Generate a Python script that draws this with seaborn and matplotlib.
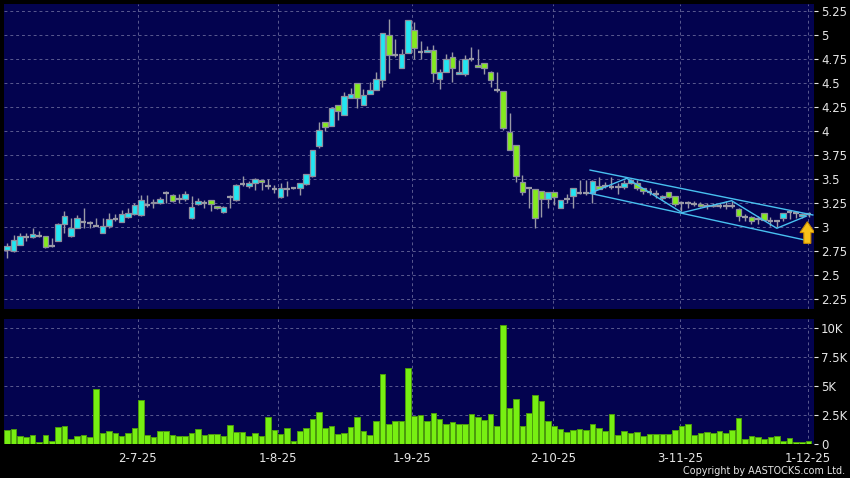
import numpy as np
import pandas as pd
import matplotlib
matplotlib.use("Agg")
import matplotlib.pyplot as plt
import seaborn as sns
from matplotlib.patches import Polygon

# ---------------- data ----------------
opens = [2.76, 2.75, 2.812, 2.90, 2.90, 2.91, 2.909, 2.80, 2.857, 3.034,
         2.906, 2.992, 3.05, 3.04, 3.01, 2.94, 3.01, 3.086, 3.05, 3.106,
         3.137, 3.127, 3.23, 3.25, 3.25, 3.36, 3.331, 3.29, 3.293, 3.096,
         3.245, 3.25, 3.286, 3.224, 3.155, 3.31, 3.279, 3.45, 3.425, 3.46,
         3.494, 3.425, 3.40, 3.31, 3.40, 3.41, 3.407, 3.449, 3.528, 3.844,
         4.10, 4.055, 4.273, 4.17, 4.346, 4.502, 4.273, 4.388, 4.429, 4.533,
         5.0, 4.792, 4.657, 4.813, 5.052, 4.82, 4.82, 4.841, 4.543, 4.612,
         4.768, 4.595, 4.595, 4.747, 4.692, 4.709, 4.619, 4.433, 4.419, 3.99,
         3.854, 3.473, 3.41, 3.394, 3.38, 3.29, 3.362, 3.196, 3.293, 3.324,
         3.36, 3.36, 3.352, 3.43, 3.43, 3.42, 3.42, 3.42, 3.462, 3.462,
         3.404, 3.37, 3.35, 3.30, 3.362, 3.327, 3.247, 3.247, 3.24, 3.24,
         3.216, 3.233, 3.223, 3.223, 3.22, 3.19, 3.102, 3.102, 3.085, 3.144,
         3.067, 3.067, 3.092, 3.161, 3.147, 3.12, 3.137]
highs = [2.837, 2.923, 2.94, 2.94, 2.99, 2.965, 2.909, 2.89, 3.04, 3.172,
         3.096, 3.13, 3.20, 3.06, 3.096, 3.096, 3.148, 3.14, 3.18, 3.20,
         3.25, 3.338, 3.338, 3.29, 3.31, 3.38, 3.35, 3.345, 3.38, 3.328,
         3.30, 3.285, 3.286, 3.224, 3.22, 3.338, 3.45, 3.53, 3.48, 3.51,
         3.494, 3.50, 3.44, 3.46, 3.48, 3.42, 3.46, 3.556, 3.80, 4.10,
         4.10, 4.249, 4.273, 4.412, 4.446, 4.502, 4.439, 4.509, 4.612, 5.021,
         5.166, 4.958, 4.855, 5.156, 5.131, 4.941, 4.889, 4.90, 4.647, 4.803,
         4.82, 4.74, 4.792, 4.879, 4.855, 4.709, 4.63, 4.619, 4.419, 4.19,
         3.854, 3.542, 3.41, 3.394, 3.38, 3.362, 3.362, 3.283, 3.35, 3.41,
         3.49, 3.49, 3.49, 3.518, 3.47, 3.525, 3.455, 3.49, 3.50, 3.49,
         3.41, 3.404, 3.387, 3.34, 3.37, 3.327, 3.275, 3.275, 3.268, 3.26,
         3.247, 3.25, 3.257, 3.275, 3.275, 3.20, 3.136, 3.12, 3.12, 3.15,
         3.102, 3.067, 3.144, 3.17, 3.17, 3.15, 3.16]
lows = [2.68, 2.745, 2.81, 2.855, 2.89, 2.90, 2.78, 2.795, 2.857, 2.94,
        2.90, 2.99, 2.99, 2.99, 3.01, 2.94, 2.99, 3.06, 3.05, 3.10,
        3.13, 3.12, 3.215, 3.20, 3.24, 3.25, 3.26, 3.255, 3.27, 3.09,
        3.23, 3.20, 3.165, 3.19, 3.15, 3.20, 3.27, 3.425, 3.41, 3.39,
        3.39, 3.40, 3.355, 3.30, 3.33, 3.40, 3.34, 3.44, 3.52, 3.82,
        4.0, 4.05, 4.111, 4.17, 4.346, 4.242, 4.273, 4.388, 4.429, 4.457,
        4.606, 4.768, 4.657, 4.813, 4.751, 4.751, 4.82, 4.509, 4.439, 4.612,
        4.509, 4.595, 4.578, 4.734, 4.664, 4.595, 4.457, 4.405, 4.007, 3.80,
        3.473, 3.335, 3.20, 2.989, 3.11, 3.196, 3.23, 3.196, 3.248, 3.196,
        3.35, 3.335, 3.255, 3.394, 3.41, 3.40, 3.35, 3.40, 3.45, 3.39,
        3.35, 3.335, 3.30, 3.28, 3.30, 3.223, 3.17, 3.20, 3.216, 3.21,
        3.19, 3.21, 3.195, 3.19, 3.20, 3.067, 3.067, 3.033, 3.033, 3.07,
        3.016, 3.0, 3.06, 3.085, 3.10, 3.10, 3.11]
closes = [2.805, 2.871, 2.909, 2.90, 2.93, 2.91, 2.79, 2.80, 3.037, 3.12,
          2.992, 3.096, 3.05, 3.04, 3.01, 3.01, 3.086, 3.086, 3.137, 3.148,
          3.234, 3.286, 3.23, 3.26, 3.293, 3.36, 3.269, 3.29, 3.349, 3.21,
          3.276, 3.25, 3.24, 3.20, 3.21, 3.31, 3.442, 3.45, 3.46, 3.50,
          3.466, 3.425, 3.40, 3.407, 3.40, 3.41, 3.46, 3.556, 3.80, 4.007,
          4.042, 4.242, 4.208, 4.367, 4.388, 4.346, 4.377, 4.433, 4.543, 5.021,
          4.792, 4.792, 4.803, 5.156, 4.862, 4.82, 4.841, 4.606, 4.612, 4.747,
          4.657, 4.619, 4.747, 4.747, 4.671, 4.657, 4.533, 4.433, 4.035, 3.80,
          3.532, 3.362, 3.41, 3.093, 3.29, 3.362, 3.31, 3.283, 3.293, 3.41,
          3.36, 3.36, 3.483, 3.394, 3.43, 3.42, 3.42, 3.455, 3.49, 3.404,
          3.38, 3.37, 3.35, 3.32, 3.317, 3.24, 3.247, 3.247, 3.24, 3.216,
          3.216, 3.216, 3.223, 3.223, 3.22, 3.112, 3.102, 3.067, 3.085, 3.078,
          3.067, 3.067, 3.144, 3.161, 3.147, 3.137, 3.137]
volume_k = [1.21, 1.27, 0.66, 0.58, 0.81, 0.2, 0.81, 0.29, 1.5, 1.58,
            0.43, 0.72, 0.81, 0.63, 4.76, 0.98, 1.1, 0.95, 0.72, 0.92,
            1.38, 3.8, 0.81, 0.58, 1.1, 1.15, 0.75, 0.66, 0.69, 0.98,
            1.33, 0.78, 0.84, 0.86, 0.69, 1.67, 1.0, 1.04, 0.72, 0.95,
            0.66, 2.33, 1.21, 0.84, 1.35, 0.29, 1.15, 1.35, 2.16, 2.74,
            1.35, 1.58, 0.86, 0.92, 1.44, 2.36, 1.1, 0.75, 2.02, 5.99,
            1.73, 2.02, 2.02, 6.51, 2.42, 2.48, 2.0, 2.7, 2.19, 1.73,
            1.87, 1.73, 1.73, 2.54, 2.3, 2.1, 2.54, 1.53, 10.2, 3.14,
            3.86, 1.56, 2.7, 4.18, 3.72, 1.99, 1.58, 1.33, 1.0, 1.24,
            1.27, 1.21, 1.76, 1.35, 1.12, 2.59, 0.78, 1.15, 0.98, 1.07,
            0.66, 0.89, 0.86, 0.86, 0.84, 1.18, 1.58, 1.7, 0.81, 0.98,
            1.07, 0.95, 1.1, 0.98, 1.21, 2.25, 0.46, 0.69, 0.58, 0.4,
            0.58, 0.69, 0.29, 0.52, 0.2, 0.2, 0.29]

date_tick_pos = [20.5, 42.6, 63.7, 85.8, 105.8, 125.9]
date_tick_labels = ["2-7-25", "1-8-25", "1-9-25", "2-10-25", "3-11-25", "1-12-25"]
price_ticks = [2.25, 2.5, 2.75, 3.0, 3.25, 3.5, 3.75, 4.0, 4.25, 4.5, 4.75, 5.0, 5.25]
price_tick_labels = ["2.25", "2.5", "2.75", "3", "3.25", "3.5", "3.75", "4",
                     "4.25", "4.5", "4.75", "5", "5.25"]
vol_ticks = [0, 2.5, 5, 7.5, 10]
vol_tick_labels = ["0", "2.5K", "5K", "7.5K", "10K"]

# drawn trend channel (index, price)
chan_upper_x = [91.6, 126.7]
chan_upper_y = [3.595, 3.127]
chan_lower_x = [91.6, 125.4]
chan_lower_y = [3.353, 2.867]
zigzag_x = [91.6, 97.4, 106.1, 113.9, 121.0, 125.7]
zigzag_y = [3.353, 3.509, 3.151, 3.276, 2.989, 3.117]
arrow_x = 125.8
arrow_tip = 3.057
arrow_base = 2.832

# ---------------- styling ----------------
BG = "#000000"
PANEL = "#03034f"
GRID = "#5a5a90"
TXT = "#e6e6e6"
UP = "#22e6f2"
DOWN = "#84ea1e"
EDGE = "#8e8e9e"
WICK = "#9a9aa6"
VOL = "#77ef12"
VOL_EDGE = "#4c9c0c"
LINE = "#48c0f0"

sns.set_theme(style="dark")
plt.rcParams["font.family"] = ["DejaVu Sans"]

df = pd.DataFrame({"idx": np.arange(len(opens)), "open": opens, "high": highs,
                   "low": lows, "close": closes, "vol": volume_k})

fig = plt.figure(figsize=(8.5, 4.78), dpi=100, facecolor=BG)
W, H = 850, 478
axp = fig.add_axes([3.5 / W, 1 - 309 / H, (814 - 3.5) / W, (309 - 3.5) / H])
axv = fig.add_axes([3.5 / W, 1 - 444 / H, (814 - 3.5) / W, (444 - 318.5) / H])

for ax in (axp, axv):
    ax.set_facecolor(PANEL)
    for s in ax.spines.values():
        s.set_visible(False)

# ---------------- candles ----------------
bw = 0.88
body = (df["close"] - df["open"]).abs()
is_doji = body < 0.006
up = (df["close"] > df["open"]) & ~is_doji
dn = (df["close"] < df["open"]) & ~is_doji

axp.vlines(df["idx"], df["low"], df["high"], color=WICK, lw=1.0, zorder=3)
for mask, col in ((up, UP), (dn, DOWN)):
    sub = df[mask]
    axp.bar(sub["idx"], (sub["close"] - sub["open"]).abs(),
            bottom=np.minimum(sub["open"], sub["close"]), width=bw,
            color=col, edgecolor=EDGE, linewidth=0.9, zorder=4)
dj = df[is_doji]
axp.hlines(dj["close"], dj["idx"] - bw / 2, dj["idx"] + bw / 2, color=WICK,
           lw=1.6, zorder=4)

# trend channel lines
axp.plot(chan_upper_x, chan_upper_y, color=LINE, lw=1.0, zorder=5)
axp.plot(chan_lower_x, chan_lower_y, color=LINE, lw=1.0, zorder=5)
axp.plot(zigzag_x, zigzag_y, color=LINE, lw=1.0, zorder=5)

# yellow arrow marker
hw, sw = 1.15, 0.55
hh = (arrow_tip - arrow_base) * 0.5
arrow_pts = [(arrow_x, arrow_tip), (arrow_x + hw, arrow_tip - hh),
             (arrow_x + sw, arrow_tip - hh), (arrow_x + sw, arrow_base),
             (arrow_x - sw, arrow_base), (arrow_x - sw, arrow_tip - hh),
             (arrow_x - hw, arrow_tip - hh)]
axp.add_patch(Polygon(arrow_pts, closed=True, facecolor="#f7c21a",
                      edgecolor="#c98a00", lw=0.8, zorder=6))

axp.set_xlim(-0.58, 126.85)
axp.set_ylim(2.149, 5.328)
axp.set_xticks(date_tick_pos)
axp.set_xticklabels([])
axp.set_yticks(price_ticks)
axp.set_yticklabels(price_tick_labels)
axp.yaxis.tick_right()
axp.tick_params(axis="x", length=0)
axp.tick_params(axis="y", colors=TXT, labelcolor=TXT, labelsize=8.5,
                length=3, width=0.8, pad=2, direction="out")
axp.grid(True, color=GRID, ls=(0, (3, 3)), lw=0.7)
axp.set_axisbelow(True)

# ---------------- volume ----------------
sns.barplot(data=df, x="idx", y="vol", ax=axv, native_scale=True, width=bw,
            color=VOL, saturation=1, edgecolor=VOL_EDGE, linewidth=0.7, zorder=3)
axv.set_xlim(-0.58, 126.85)
axv.set_ylim(0, 10.8)
axv.set_xlabel("")
axv.set_ylabel("")
axv.set_xticks(date_tick_pos)
axv.set_xticklabels(date_tick_labels)
axv.set_yticks(vol_ticks)
axv.set_yticklabels(vol_tick_labels)
axv.yaxis.tick_right()
axv.tick_params(axis="both", colors=TXT, labelcolor=TXT, labelsize=8.5,
                length=3, width=0.8, pad=2, direction="out")
axv.tick_params(axis="x", pad=3)
axv.grid(True, color=GRID, ls=(0, (3, 3)), lw=0.7)
axv.set_axisbelow(True)

fig.text(845 / W, 1 - 471 / H, "Copyright by AASTOCKS.com Ltd.", color=TXT,
         fontsize=6.9, ha="right", va="center")

fig.savefig("out.png", dpi=100, facecolor=BG)
